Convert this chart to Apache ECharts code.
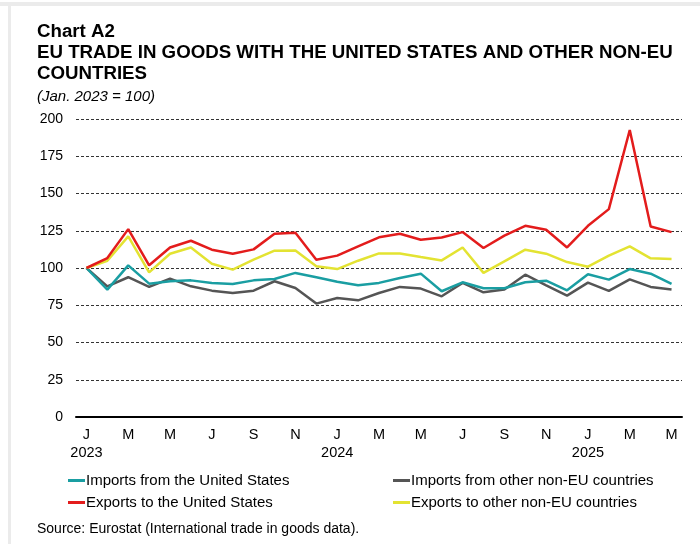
<!DOCTYPE html>
<html>
<head>
<meta charset="utf-8">
<script src="https://cdn.jsdelivr.net/npm/echarts@6/dist/echarts.min.js"></script>
<style>
html,body{margin:0;padding:0;background:#fff;}
#chart{width:700px;height:544px;}
</style>
</head>
<body>
<div id="chart"></div>
<script>
// Months Jan 2023 .. May 2025
const categories = [
  'Jan 2023','Feb 2023','Mar 2023','Apr 2023','May 2023','Jun 2023','Jul 2023','Aug 2023','Sep 2023','Oct 2023','Nov 2023','Dec 2023',
  'Jan 2024','Feb 2024','Mar 2024','Apr 2024','May 2024','Jun 2024','Jul 2024','Aug 2024','Sep 2024','Oct 2024','Nov 2024','Dec 2024',
  'Jan 2025','Feb 2025','Mar 2025','Apr 2025','May 2025'
];
const tickLabels = [
  'J\n2023','','M','','M','','J','','S','','N','',
  'J\n2024','','M','','M','','J','','S','','N','',
  'J\n2025','','M','','M'
];
const seriesNames = [
  'Imports from the United States',
  'Imports from other non-EU countries',
  'Exports to the United States',
  'Exports to other non-EU countries'
];
const importsUS = [100,85.5,101.8,89.5,91.1,91.7,90,89.3,91.7,92.6,96.7,93.8,
  90.8,88.4,90,93.3,96.2,84.4,90.4,86.4,86.4,90.4,91.5,85,
  95.8,92.2,99.3,96.2,89.3];
const importsOther = [100,87.7,93.8,87.3,92.9,87.7,84.8,83.3,84.8,91.1,86.6,76.1,
  79.9,78.3,83.2,87.3,86.2,81,90,83.7,85.5,95.5,88.4,81.5,
  90.2,84.6,92.4,87.3,85.5];
const exportsUS = [100,106.7,126.1,101.8,113.8,118.3,112.3,109.6,112.5,123,123.7,105.6,
  108.3,114.5,120.6,123,119,120.5,124.1,113.4,121.7,128.3,125.7,113.8,
  128.3,139.5,192.6,127.9,124.1];
const exportsOther = [100,104.9,121.2,97.1,109.6,113.8,102.9,98.9,105.6,111.6,111.8,101.1,
  99.3,104.9,109.8,109.8,107.4,105.1,113.8,96.7,104.5,112.3,109.6,104,
  100.9,108.3,114.5,106.5,106];
const yTicks = [0,25,50,75,100,125,150,175,200];

const colors = ['#1a9ea2','#555555','#e31c1c','#e3e332'];
const seriesData = [importsUS, importsOther, exportsUS, exportsOther];

const chart = echarts.init(document.getElementById('chart'), null, {renderer:'canvas'});
const FONT = 'Liberation Sans, Arial, sans-serif';

const legendPos = [
  {left:68, top:473},
  {left:393, top:473},
  {left:68, top:495},
  {left:393, top:495}
];

const option = {
  animation:false,
  backgroundColor:'#ffffff',
  textStyle:{fontFamily:FONT},
  graphic:[
    {type:'rect', shape:{x:0,y:2,width:700,height:4}, style:{fill:'#ebebeb'}, silent:true},
    {type:'rect', shape:{x:8,y:2,width:3,height:542}, style:{fill:'#ebebeb'}, silent:true},
    {type:'text', left:37, top:522, style:{text:'Source: Eurostat (International trade in goods data).', font:'14px '+FONT, fill:'#000'}}
  ],
  title:[
    {
      text:'Chart A2\nEU TRADE IN GOODS WITH THE UNITED STATES AND OTHER NON-EU\nCOUNTRIES',
      left:37, top:21, padding:0,
      textStyle:{fontFamily:FONT, fontSize:18.7, fontWeight:'bold', color:'#000', lineHeight:21}
    },
    {
      text:'(Jan. 2023 = 100)',
      left:37, top:89, padding:0,
      textStyle:{fontFamily:FONT, fontSize:15, fontStyle:'italic', fontWeight:'normal', color:'#000'}
    }
  ],
  legend: seriesNames.map((n,i)=>({
    data:[n],
    left:legendPos[i].left, top:legendPos[i].top,
    padding:0,
    icon:'rect', itemWidth:17, itemHeight:3,
    itemStyle:{color:colors[i]},
    textStyle:{fontFamily:FONT, fontSize:15, color:'#000', padding:[0,0,0,-4]},
    selectedMode:false
  })),
  grid:{left:76, right:18, top:119, bottom:127, containLabel:false},
  xAxis:{
    type:'category',
    data:categories,
    boundaryGap:true,
    axisLine:{show:true, lineStyle:{color:'#000', width:2}},
    axisTick:{show:false},
    axisLabel:{
      interval:0,
      formatter:(v,i)=>tickLabels[i],
      fontFamily:FONT, fontSize:14.5, color:'#000', lineHeight:18, margin:9
    },
    splitLine:{show:false}
  },
  yAxis:{
    type:'value',
    min:yTicks[0], max:yTicks[yTicks.length-1], interval:25,
    axisLine:{show:false},
    axisTick:{show:false},
    axisLabel:{fontFamily:FONT, fontSize:14, color:'#000', margin:13},
    splitLine:{show:true, lineStyle:{color:'#333', width:1, type:[3,2]}}
  },
  series: seriesNames.map((n,i)=>({
    name:n,
    type:'line',
    data:seriesData[i],
    symbol:'none',
    lineStyle:{color:colors[i], width:2.5},
    itemStyle:{color:colors[i]},
    z: [3,2,5,4][i]
  }))
};
chart.setOption(option);
</script>
</body>
</html>
